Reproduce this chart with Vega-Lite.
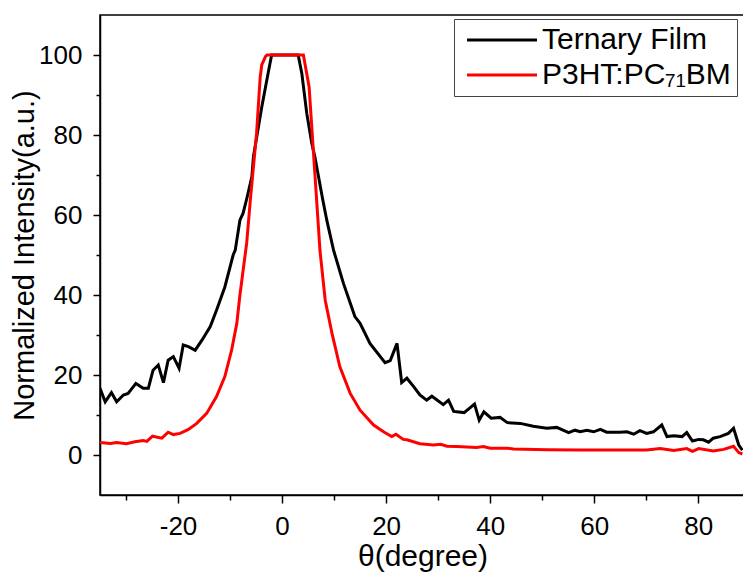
{
  "$schema": "https://vega.github.io/schema/vega-lite/v6.json",
  "autosize": "none",
  "padding": {"left": 100, "top": 15, "right": 0, "bottom": 82},
  "width": 645,
  "height": 480,
  "config": {
    "font": "Liberation Sans",
    "view": {"stroke": "black", "strokeWidth": 1.5},
    "axis": {"grid": false, "domainColor": "black", "domainWidth": 1.5, "tickColor": "black", "tickWidth": 1.5, "labelColor": "black", "titleColor": "black", "labelFontSize": 26, "titleFontSize": 30, "titleFontWeight": "normal", "labelFont": "Liberation Sans", "titleFont": "Liberation Sans"}
  },
  "data": {
    "values": [
      {"s": "Ternary Film", "x": -35, "y": 16.7},
      {"s": "Ternary Film", "x": -34, "y": 13.3},
      {"s": "Ternary Film", "x": -32.8, "y": 15.6},
      {"s": "Ternary Film", "x": -31.8, "y": 13.3},
      {"s": "Ternary Film", "x": -30.5, "y": 15},
      {"s": "Ternary Film", "x": -29.6, "y": 15.4},
      {"s": "Ternary Film", "x": -28.1, "y": 17.9},
      {"s": "Ternary Film", "x": -26.7, "y": 16.7},
      {"s": "Ternary Film", "x": -25.7, "y": 16.7},
      {"s": "Ternary Film", "x": -24.8, "y": 21.2},
      {"s": "Ternary Film", "x": -23.8, "y": 22.5},
      {"s": "Ternary Film", "x": -22.8, "y": 18.1},
      {"s": "Ternary Film", "x": -21.9, "y": 23.7},
      {"s": "Ternary Film", "x": -20.9, "y": 24.6},
      {"s": "Ternary Film", "x": -19.8, "y": 21.7},
      {"s": "Ternary Film", "x": -19.0, "y": 27.5},
      {"s": "Ternary Film", "x": -18.0, "y": 27.1},
      {"s": "Ternary Film", "x": -16.7, "y": 26.2},
      {"s": "Ternary Film", "x": -15.4, "y": 28.7},
      {"s": "Ternary Film", "x": -13.8, "y": 32.1},
      {"s": "Ternary Film", "x": -12.6, "y": 36.2},
      {"s": "Ternary Film", "x": -11.0, "y": 42},
      {"s": "Ternary Film", "x": -9.4, "y": 50},
      {"s": "Ternary Film", "x": -9.0, "y": 51.2},
      {"s": "Ternary Film", "x": -8.1, "y": 58.7},
      {"s": "Ternary Film", "x": -7.5, "y": 60.4},
      {"s": "Ternary Film", "x": -6.8, "y": 64},
      {"s": "Ternary Film", "x": -5.8, "y": 69.6},
      {"s": "Ternary Film", "x": -5.5, "y": 74.6},
      {"s": "Ternary Film", "x": -3.9, "y": 87},
      {"s": "Ternary Film", "x": -2.6, "y": 96},
      {"s": "Ternary Film", "x": -2.0, "y": 100},
      {"s": "Ternary Film", "x": 3.1, "y": 100},
      {"s": "Ternary Film", "x": 3.8, "y": 95.4},
      {"s": "Ternary Film", "x": 4.75, "y": 85.4},
      {"s": "Ternary Film", "x": 5.7, "y": 78},
      {"s": "Ternary Film", "x": 6.3, "y": 74.6},
      {"s": "Ternary Film", "x": 7.8, "y": 64},
      {"s": "Ternary Film", "x": 8.6, "y": 58.7},
      {"s": "Ternary Film", "x": 9.9, "y": 51.2},
      {"s": "Ternary Film", "x": 11.8, "y": 42.9},
      {"s": "Ternary Film", "x": 14.0, "y": 34.6},
      {"s": "Ternary Film", "x": 15.0, "y": 32.9},
      {"s": "Ternary Film", "x": 16.9, "y": 27.9},
      {"s": "Ternary Film", "x": 19.8, "y": 23.1},
      {"s": "Ternary Film", "x": 20.8, "y": 23.6},
      {"s": "Ternary Film", "x": 22.1, "y": 27.9},
      {"s": "Ternary Film", "x": 23.0, "y": 18.1},
      {"s": "Ternary Film", "x": 24.0, "y": 19.2},
      {"s": "Ternary Film", "x": 25.3, "y": 17.1},
      {"s": "Ternary Film", "x": 26.5, "y": 15},
      {"s": "Ternary Film", "x": 27.8, "y": 13.7},
      {"s": "Ternary Film", "x": 28.8, "y": 14.7},
      {"s": "Ternary Film", "x": 31.0, "y": 12.6},
      {"s": "Ternary Film", "x": 32.0, "y": 13.7},
      {"s": "Ternary Film", "x": 33.0, "y": 10.9},
      {"s": "Ternary Film", "x": 35.0, "y": 10.6},
      {"s": "Ternary Film", "x": 37.0, "y": 12.7},
      {"s": "Ternary Film", "x": 37.9, "y": 8.7},
      {"s": "Ternary Film", "x": 38.8, "y": 10.8},
      {"s": "Ternary Film", "x": 40.2, "y": 9.2},
      {"s": "Ternary Film", "x": 41.9, "y": 9.4},
      {"s": "Ternary Film", "x": 43.3, "y": 8.1},
      {"s": "Ternary Film", "x": 45.8, "y": 7.9},
      {"s": "Ternary Film", "x": 48.3, "y": 7.2},
      {"s": "Ternary Film", "x": 50.9, "y": 6.7},
      {"s": "Ternary Film", "x": 52.8, "y": 6.9},
      {"s": "Ternary Film", "x": 55.1, "y": 5.6},
      {"s": "Ternary Film", "x": 56.3, "y": 6.2},
      {"s": "Ternary Film", "x": 57.3, "y": 5.8},
      {"s": "Ternary Film", "x": 58.6, "y": 6.2},
      {"s": "Ternary Film", "x": 59.9, "y": 5.8},
      {"s": "Ternary Film", "x": 61.2, "y": 6.4},
      {"s": "Ternary Film", "x": 62.4, "y": 5.7},
      {"s": "Ternary Film", "x": 65.0, "y": 5.7},
      {"s": "Ternary Film", "x": 66.3, "y": 5.8},
      {"s": "Ternary Film", "x": 67.6, "y": 5.2},
      {"s": "Ternary Film", "x": 68.8, "y": 6.1},
      {"s": "Ternary Film", "x": 70.1, "y": 5.4},
      {"s": "Ternary Film", "x": 71.4, "y": 5.8},
      {"s": "Ternary Film", "x": 73.0, "y": 7.5},
      {"s": "Ternary Film", "x": 74.0, "y": 4.6},
      {"s": "Ternary Film", "x": 75.3, "y": 4.8},
      {"s": "Ternary Film", "x": 76.9, "y": 4.6},
      {"s": "Ternary Film", "x": 77.8, "y": 5.6},
      {"s": "Ternary Film", "x": 78.9, "y": 3.5},
      {"s": "Ternary Film", "x": 80.1, "y": 3.9},
      {"s": "Ternary Film", "x": 81.0, "y": 3.8},
      {"s": "Ternary Film", "x": 82.0, "y": 3.2},
      {"s": "Ternary Film", "x": 82.9, "y": 4.2},
      {"s": "Ternary Film", "x": 84.2, "y": 4.6},
      {"s": "Ternary Film", "x": 85.8, "y": 5.4},
      {"s": "Ternary Film", "x": 86.8, "y": 6.7},
      {"s": "Ternary Film", "x": 87.8, "y": 2.5},
      {"s": "Ternary Film", "x": 88.5, "y": 1.2},
      {"s": "P3HT:PC₇₁BM", "x": -35, "y": 3.1},
      {"s": "P3HT:PC₇₁BM", "x": -33, "y": 2.9},
      {"s": "P3HT:PC₇₁BM", "x": -31.8, "y": 3.1},
      {"s": "P3HT:PC₇₁BM", "x": -29.9, "y": 2.8},
      {"s": "P3HT:PC₇₁BM", "x": -28.3, "y": 3.3},
      {"s": "P3HT:PC₇₁BM", "x": -26.7, "y": 3.6},
      {"s": "P3HT:PC₇₁BM", "x": -26, "y": 3.4},
      {"s": "P3HT:PC₇₁BM", "x": -24.9, "y": 4.7},
      {"s": "P3HT:PC₇₁BM", "x": -23.1, "y": 4.2},
      {"s": "P3HT:PC₇₁BM", "x": -21.9, "y": 5.7},
      {"s": "P3HT:PC₇₁BM", "x": -20.9, "y": 5.1},
      {"s": "P3HT:PC₇₁BM", "x": -19.6, "y": 5.4},
      {"s": "P3HT:PC₇₁BM", "x": -18, "y": 6.4},
      {"s": "P3HT:PC₇₁BM", "x": -16.4, "y": 7.9},
      {"s": "P3HT:PC₇₁BM", "x": -14.5, "y": 10.4},
      {"s": "P3HT:PC₇₁BM", "x": -12.6, "y": 14.6},
      {"s": "P3HT:PC₇₁BM", "x": -11, "y": 19.6},
      {"s": "P3HT:PC₇₁BM", "x": -9.7, "y": 26.2},
      {"s": "P3HT:PC₇₁BM", "x": -8.7, "y": 32.9},
      {"s": "P3HT:PC₇₁BM", "x": -8.1, "y": 40},
      {"s": "P3HT:PC₇₁BM", "x": -7.75, "y": 43.5},
      {"s": "P3HT:PC₇₁BM", "x": -6.8, "y": 53},
      {"s": "P3HT:PC₇₁BM", "x": -6.1, "y": 63.7},
      {"s": "P3HT:PC₇₁BM", "x": -4.9, "y": 80.4},
      {"s": "P3HT:PC₇₁BM", "x": -4.2, "y": 94.5},
      {"s": "P3HT:PC₇₁BM", "x": -3.9, "y": 97.5},
      {"s": "P3HT:PC₇₁BM", "x": -3.2, "y": 99.6},
      {"s": "P3HT:PC₇₁BM", "x": -2.9, "y": 100},
      {"s": "P3HT:PC₇₁BM", "x": 4.1, "y": 100},
      {"s": "P3HT:PC₇₁BM", "x": 5.2, "y": 92},
      {"s": "P3HT:PC₇₁BM", "x": 7.3, "y": 51},
      {"s": "P3HT:PC₇₁BM", "x": 8.3, "y": 38.7},
      {"s": "P3HT:PC₇₁BM", "x": 9.6, "y": 30.4},
      {"s": "P3HT:PC₇₁BM", "x": 11.1, "y": 22.1},
      {"s": "P3HT:PC₇₁BM", "x": 13.1, "y": 15.4},
      {"s": "P3HT:PC₇₁BM", "x": 15, "y": 11.2},
      {"s": "P3HT:PC₇₁BM", "x": 17.6, "y": 7.5},
      {"s": "P3HT:PC₇₁BM", "x": 19.5, "y": 5.8},
      {"s": "P3HT:PC₇₁BM", "x": 21.1, "y": 4.6},
      {"s": "P3HT:PC₇₁BM", "x": 21.9, "y": 5.2},
      {"s": "P3HT:PC₇₁BM", "x": 23.3, "y": 3.9},
      {"s": "P3HT:PC₇₁BM", "x": 24, "y": 3.8},
      {"s": "P3HT:PC₇₁BM", "x": 26.5, "y": 2.8},
      {"s": "P3HT:PC₇₁BM", "x": 29.1, "y": 2.5},
      {"s": "P3HT:PC₇₁BM", "x": 30.5, "y": 2.7},
      {"s": "P3HT:PC₇₁BM", "x": 31.7, "y": 2.2},
      {"s": "P3HT:PC₇₁BM", "x": 33.6, "y": 2.1},
      {"s": "P3HT:PC₇₁BM", "x": 37.4, "y": 1.9},
      {"s": "P3HT:PC₇₁BM", "x": 38.7, "y": 2.1},
      {"s": "P3HT:PC₇₁BM", "x": 40, "y": 1.7},
      {"s": "P3HT:PC₇₁BM", "x": 43.2, "y": 1.7},
      {"s": "P3HT:PC₇₁BM", "x": 44.5, "y": 1.5},
      {"s": "P3HT:PC₇₁BM", "x": 50.9, "y": 1.3},
      {"s": "P3HT:PC₇₁BM", "x": 57.3, "y": 1.25},
      {"s": "P3HT:PC₇₁BM", "x": 63.7, "y": 1.25},
      {"s": "P3HT:PC₇₁BM", "x": 70.1, "y": 1.25},
      {"s": "P3HT:PC₇₁BM", "x": 72.7, "y": 1.6},
      {"s": "P3HT:PC₇₁BM", "x": 75.3, "y": 1.1},
      {"s": "P3HT:PC₇₁BM", "x": 77.8, "y": 1.6},
      {"s": "P3HT:PC₇₁BM", "x": 78.9, "y": 0.9},
      {"s": "P3HT:PC₇₁BM", "x": 80.1, "y": 1.6},
      {"s": "P3HT:PC₇₁BM", "x": 82.9, "y": 1.0},
      {"s": "P3HT:PC₇₁BM", "x": 84.9, "y": 1.4},
      {"s": "P3HT:PC₇₁BM", "x": 86.8, "y": 2.2},
      {"s": "P3HT:PC₇₁BM", "x": 87.8, "y": 0.6},
      {"s": "P3HT:PC₇₁BM", "x": 88.5, "y": 0.25}
    ]
  },
  "mark": {"type": "line", "strokeWidth": 3, "clip": true},
  "encoding": {
    "x": {
      "field": "x", "type": "quantitative",
      "scale": {"domain": [-35, 89], "nice": false, "zero": false},
      "axis": {
        "title": "θ(degree)",
        "values": [-30, -20, -10, 0, 10, 20, 30, 40, 50, 60, 70, 80],
        "labelExpr": "datum.value % 20 === 0 ? toString(datum.value) : ''",
        "tickSize": {"expr": "datum.value % 20 === 0 ? 8 : 5"},
        "labelPadding": 10,
        "titlePadding": 2
      }
    },
    "y": {
      "field": "y", "type": "quantitative",
      "scale": {"domain": [-10, 110], "nice": false, "zero": false},
      "axis": {
        "title": "Normalized Intensity(a.u.)",
        "titleFontSize": 29,
        "values": [0, 10, 20, 30, 40, 50, 60, 70, 80, 90, 100],
        "labelExpr": "datum.value % 20 === 0 ? toString(datum.value) : ''",
        "tickSize": {"expr": "datum.value % 20 === 0 ? 7 : 4"},
        "labelPadding": 11,
        "titlePadding": -1
      }
    },
    "color": {
      "field": "s", "type": "nominal", "sort": null,
      "scale": {"domain": ["Ternary Film", "P3HT:PC₇₁BM"], "range": ["#000000", "#ff0000"]},
      "legend": {
        "title": null,
        "orient": "none",
        "legendX": 354,
        "legendY": 4,
        "padding": 6,
        "strokeColor": "#444444",
        "fillColor": "white",
        "symbolType": "M-5,0H5",
        "symbolSize": 196,
        "symbolStrokeWidth": 3,
        "symbolOffset": 27,
        "labelFontSize": 30,
        "labelFont": "Liberation Sans",
        "labelColor": "black",
        "labelOffset": 25,
        "labelLimit": 0,
        "rowPadding": 5
      }
    }
  }
}
